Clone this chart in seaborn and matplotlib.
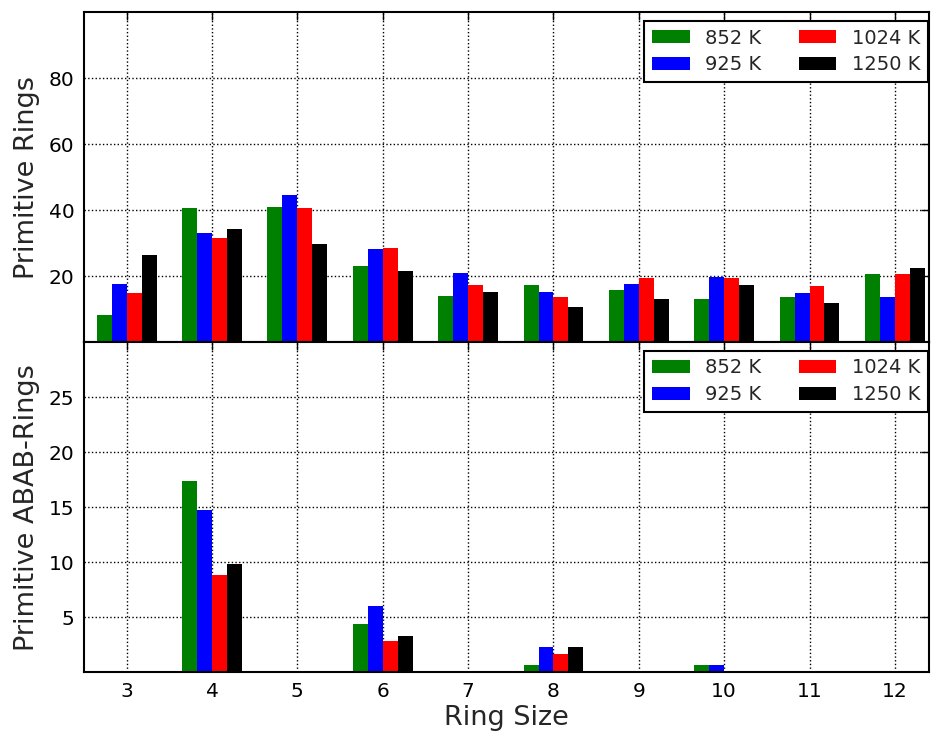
import matplotlib
matplotlib.use("Agg")
import matplotlib.pyplot as plt
from matplotlib.patches import Patch
import seaborn as sns
import pandas as pd

ring_sizes = [3, 4, 5, 6, 7, 8, 9, 10, 11, 12]
temperatures = ["852 K", "925 K", "1024 K", "1250 K"]
colors = ["#008000", "#0000ff", "#ff0000", "#000000"]

prim_852 = [8.1, 40.6, 41.0, 23.1, 13.9, 17.3, 15.7, 13.1, 13.5, 20.5]
prim_925 = [17.7, 33.1, 44.7, 28.1, 21.0, 15.2, 17.7, 19.8, 14.8, 13.5]
prim_1024 = [14.8, 31.4, 40.6, 28.5, 17.3, 13.5, 19.3, 19.3, 16.9, 20.5]
prim_1250 = [26.5, 34.3, 29.8, 21.4, 15.2, 10.6, 13.1, 17.3, 11.8, 22.3]

abab_852 = [0, 17.4, 0, 4.4, 0, 0.66, 0, 0.66, 0, 0]
abab_925 = [0, 14.7, 0, 6.05, 0, 2.27, 0, 0.66, 0, 0]
abab_1024 = [0, 8.8, 0, 2.8, 0, 1.66, 0, 0, 0, 0]
abab_1250 = [0, 9.8, 0, 3.3, 0, 2.27, 0, 0, 0, 0]

top_ticks = [20, 40, 60, 80]
bottom_ticks = [5, 10, 15, 20, 25]


def long_df(series):
    rows = []
    for t, vals in zip(temperatures, series):
        for r, v in zip(ring_sizes, vals):
            rows.append({"ring": r, "value": v, "T": t})
    return pd.DataFrame(rows)


df_top = long_df([prim_852, prim_925, prim_1024, prim_1250])
df_bot = long_df([abab_852, abab_925, abab_1024, abab_1250])

sns.set_theme(style="white")
plt.rcParams["font.family"] = ["DejaVu Sans"]

fig = plt.figure(figsize=(9.32, 7.35), dpi=100)
ax1 = fig.add_axes([0.0901, 0.5347, 0.9067, 0.4486])
ax2 = fig.add_axes([0.0901, 0.0853, 0.9067, 0.4494])

for ax, df in ((ax1, df_top), (ax2, df_bot)):
    sns.barplot(data=df, x="ring", y="value", hue="T", order=ring_sizes,
                hue_order=temperatures, palette=colors, width=0.7,
                saturation=1, linewidth=0, legend=False, ax=ax)
    ax.set_xlim(-0.5, 9.4)
    ax.set_axisbelow(True)
    ax.grid(True, linestyle=":", color="black", linewidth=1)
    ax.tick_params(direction="in", top=True, right=True, length=6,
                   width=1, labelsize=14.5, colors="black", pad=7)
    for s in ax.spines.values():
        s.set_color("black")
        s.set_linewidth(1.5)
    handles = [Patch(facecolor=c, edgecolor="none", label=t)
               for c, t in zip(colors, temperatures)]
    leg = ax.legend(handles=handles, ncol=2, loc="upper right",
                    bbox_to_anchor=(0.999, 0.974), borderaxespad=0,
                    fontsize=14, frameon=True, fancybox=False,
                    handlelength=1.95, handleheight=0.67, columnspacing=1.9,
                    handletextpad=0.8, labelspacing=0.4, borderpad=0.4)
    leg.get_frame().set_edgecolor("black")
    leg.get_frame().set_linewidth(1.5)
    leg.get_frame().set_alpha(1)

ax1.set_ylim(0, 100)
ax1.set_yticks(top_ticks)
ax1.set_xlabel("")
ax1.tick_params(labelbottom=False)
ax1.set_ylabel("Primitive Rings", fontsize=19.5, labelpad=6)

ax2.set_ylim(0, 30)
ax2.set_yticks(bottom_ticks)
ax2.set_xticks(range(len(ring_sizes)))
ax2.set_xticklabels([str(r) for r in ring_sizes])
ax2.set_xlabel("Ring Size", fontsize=19.5, labelpad=3)
ax2.set_ylabel("Primitive ABAB-Rings", fontsize=19.5, labelpad=6)

fig.savefig("out.png", dpi=100)
